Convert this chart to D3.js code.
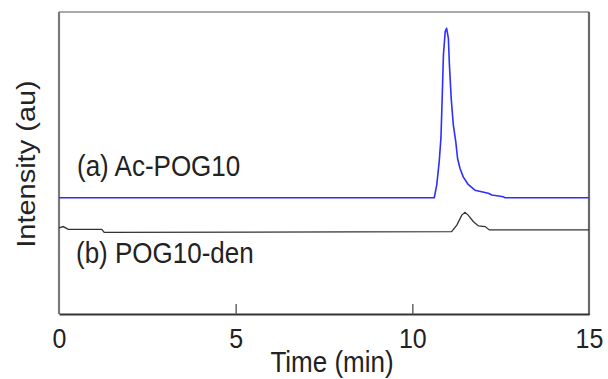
<!DOCTYPE html>
<html>
<head>
<meta charset="utf-8">
<script src="https://cdn.jsdelivr.net/npm/d3@7"></script>
<style>
  body { margin: 0; background: #fff; }
  text { font-family: "Liberation Sans", Arial, sans-serif; fill: #222; }
</style>
</head>
<body>
<div id="chart"></div>
<script>
// time axis ticks (min)
var timeTicks = [0, 5, 10, 15];

// (a) Ac-POG10 trace: time (min) and intensity above its baseline
var timeA = [0, 10.62, 10.69, 10.76, 10.81, 10.85, 10.88, 10.93, 10.97, 11.02, 11.05, 11.10, 11.16,
             11.23, 11.28, 11.35, 11.44, 11.58, 11.77, 11.96, 12.15, 12.25, 12.58, 12.62, 15];
var intA  = [0, 0, 4.2, 11.9, 19.8, 35.1, 47.3, 55.0, 56.1, 52.8, 43.9, 32.9, 24.1,
             18.5, 13.0, 9.7, 6.9, 4.4, 2.5, 2.0, 1.5, 0.9, 0.3, 0, 0];

// (b) POG10-den trace
var timeB = [0, 0.12, 0.26, 1.21, 1.28, 11.11, 11.26, 11.40, 11.49, 11.58, 11.73, 11.87, 12.06, 12.18, 15];
var intB  = [1.5, 1.9, 1.0, 1.0, 0, 0.2, 2.4, 5.7, 6.6, 5.7, 3.5, 2.1, 1.9, 0.8, 0.8];

// vertical offsets of the stacked traces (au)
var offsetA = 38.5;
var offsetB = 27.05;

var labels = ["(a) Ac-POG10", "(b) POG10-den"];

var width = 608, height = 379;
var padding = { top: 12, right: 19, bottom: 65, left: 59 };

var svg = d3.select("#chart")
    .append("svg")
    .attr("width", width)
    .attr("height", height);

var xScale = d3.scaleLinear()
    .domain([0, 15])
    .range([padding.left, width - padding.right]);
var yScale = d3.scaleLinear()
    .domain([0, 100])
    .range([height - padding.bottom, padding.top]);

var x0 = xScale(0), x1 = xScale(15), y0 = yScale(0), y1 = yScale(100);

// frame
svg.append("line").attr("x1", x0).attr("x2", x1).attr("y1", y1).attr("y2", y1)
    .attr("stroke", "#555").attr("stroke-width", 1);
svg.append("line").attr("x1", x0).attr("x2", x0).attr("y1", y1).attr("y2", y0)
    .attr("stroke", "#7a7a7a").attr("stroke-width", 2.2);
svg.append("line").attr("x1", x1).attr("x2", x1).attr("y1", y1).attr("y2", y0 + 1)
    .attr("stroke", "#6a6a6a").attr("stroke-width", 2.2);

var xAxis = d3.axisBottom(xScale)
    .tickValues(timeTicks)
    .tickSizeInner(-10)
    .tickSizeOuter(0)
    .tickPadding(22);

var gx = svg.append("g")
    .attr("transform", "translate(0," + y0 + ")")
    .call(xAxis);
gx.select(".domain").attr("stroke", "#333").attr("stroke-width", 2);
gx.selectAll(".tick line").attr("stroke", "#666").attr("stroke-width", 1.5)
    .filter(function(d) { return d === 0 || d === 15; }).remove();
gx.selectAll(".tick text")
    .attr("font-size", 25)
    .attr("font-family", "Liberation Sans, Arial, sans-serif")
    .attr("fill", "#222")
    .attr("y", 0)
    .attr("dy", 0)
    .attr("transform", function(d) { return "translate(0,34) scale(1,1.1)"; });

// traces
var lineA = d3.line()
    .x(function(d, i) { return xScale(timeA[i]); })
    .y(function(d) { return yScale(d + offsetA); });
var lineB = d3.line()
    .x(function(d, i) { return xScale(timeB[i]); })
    .y(function(d) { return yScale(d + offsetB); });

svg.append("path")
    .attr("d", lineB(intB))
    .attr("fill", "none")
    .attr("stroke", "#333")
    .attr("stroke-width", 1.3);

svg.append("path")
    .attr("d", lineA(intA))
    .attr("fill", "none")
    .attr("stroke", "#2f2fff")
    .attr("stroke-width", 1.6)
    .attr("stroke-linejoin", "round");

// trace labels
svg.append("text")
    .attr("transform", "translate(77,176) scale(1,1.1)")
    .attr("font-size", 26)
    .text(labels[0]);
svg.append("text")
    .attr("transform", "translate(76,263) scale(1,1.1)")
    .attr("font-size", 26)
    .text(labels[1]);

// axis titles
svg.append("text")
    .attr("transform", "translate(332,372) scale(1,1.1)")
    .attr("text-anchor", "middle")
    .attr("font-size", 26)
    .text("Time (min)");
svg.append("text")
    .attr("transform", "translate(35,164) scale(1,1.16) rotate(-90)")
    .attr("text-anchor", "middle")
    .attr("font-size", 25)
    .text("Intensity (au)");
</script>
</body>
</html>
